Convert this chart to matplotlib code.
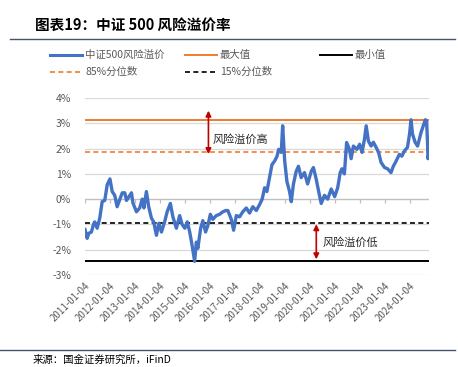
import matplotlib.pyplot as plt
from matplotlib.lines import Line2D
import pandas as pd

plt.rcParams['font.family'] = ['Noto Sans CJK SC', 'DejaVu Sans']

# values (%)
dates = ['2011-01-04', '2011-02-05', '2011-03-01', '2011-04-08', '2011-05-08', '2011-05-26',
         '2011-07-01', '2011-08-08', '2011-09-12', '2011-10-20', '2011-11-25', '2012-01-04',
         '2012-02-06', '2012-03-14', '2012-04-18', '2012-05-25', '2012-07-02', '2012-08-08',
         '2012-09-02', '2012-10-08', '2012-11-14', '2012-12-05', '2013-01-26', '2013-03-14',
         '2013-04-20', '2013-05-15', '2013-06-20', '2013-07-24', '2013-09-02', '2013-10-05',
         '2013-11-14', '2013-12-20', '2014-01-27', '2014-03-14', '2014-04-20', '2014-06-06',
         '2014-07-13', '2014-09-02', '2014-10-20', '2014-11-25', '2015-01-04', '2015-02-08',
         '2015-03-16', '2015-04-20', '2015-05-27', '2015-06-21', '2015-07-13', '2015-08-23',
         '2015-09-24', '2015-11-03', '2015-12-06', '2016-01-12', '2016-02-17', '2016-04-08',
         '2016-05-26', '2016-07-13', '2016-08-26', '2016-09-24', '2016-11-14', '2016-12-17',
         '2017-01-26', '2017-03-14', '2017-05-01', '2017-06-21', '2017-08-08', '2017-09-24',
         '2017-11-14', '2018-01-04', '2018-02-08', '2018-03-16', '2018-04-18', '2018-05-26',
         '2018-07-02', '2018-08-08', '2018-09-14', '2018-10-08', '2018-11-14', '2018-12-05',
         '2019-01-04', '2019-02-05', '2019-03-16', '2019-04-10', '2019-05-12', '2019-06-21',
         '2019-07-24', '2019-09-02', '2019-10-20', '2019-12-05', '2020-01-27', '2020-02-28',
         '2020-04-08', '2020-05-15', '2020-06-21', '2020-08-08', '2020-09-24', '2020-11-14',
         '2021-01-04', '2021-02-17', '2021-03-26', '2021-04-20', '2021-05-26', '2021-06-28',
         '2021-08-08', '2021-09-02', '2021-10-05', '2021-11-25', '2022-01-04', '2022-02-08',
         '2022-03-16', '2022-04-10', '2022-05-12', '2022-06-21', '2022-07-24', '2022-09-02',
         '2022-10-08', '2022-11-14', '2023-01-04', '2023-02-17', '2023-04-08', '2023-05-12',
         '2023-06-21', '2023-08-08', '2023-09-14', '2023-10-20', '2023-12-05', '2024-01-04',
         '2024-01-26', '2024-02-17', '2024-03-26', '2024-05-01', '2024-06-21', '2024-07-24',
         '2024-08-22', '2024-09-10', '2024-09-24', '2024-09-30', '2024-10-15']
premium = [-1.2, -1.55, -1.35, -1.3, -1.0, -0.9,
           -1.15, -0.75, -0.1, -0.05, 0.57, 0.8,
           0.3, 0.15, -0.3, -0.03, 0.25, 0.25,
           -0.05, 0.1, 0.25, -0.15, -0.5, -0.35,
           0.0, -0.35, 0.3, -0.3, -0.75, -0.9,
           -1.43, -0.95, -1.3, -0.9, -0.5, -0.17,
           -0.7, -1.15, -0.65, -1.0, -1.15, -0.9,
           -1.3, -1.83, -2.46, -1.7, -1.95, -1.15,
           -0.85, -1.3, -1.05, -0.6, -0.8, -0.65,
           -0.6, -0.5, -0.45, -0.45, -0.8, -1.23,
           -0.65, -0.7, -0.5, -0.35, -0.55, -0.3,
           -0.45, -0.2, 0.0, 0.45, 0.3, 0.84,
           1.37, 1.5, 1.7, 1.97, 1.85, 2.9,
           1.5, 0.7, 0.3, -0.1, 0.6, 1.1,
           1.3, 0.85, 1.05, 0.6, 1.1, 1.25,
           0.8, 0.3, -0.17, 0.15, 0.0, 0.4,
           0.1, 0.45, 1.05, 1.2, 1.0, 2.24,
           1.97, 1.6, 2.1, 1.97, 2.17, 1.85,
           2.37, 2.9, 2.3, 2.1, 2.25, 2.05,
           1.85, 1.45, 1.25, 1.2, 1.05, 1.3,
           1.5, 1.77, 1.7, 1.9, 2.05, 2.57,
           3.14, 2.57, 2.25, 2.1, 2.64, 2.9,
           3.14, 3.1, 2.2, 1.6, 1.8]
max_val = 3.14
min_val = -2.46
q85 = 1.88
q15 = -0.95
tick_labels = ['%d-01-04' % y for y in range(2011, 2025)]

blue = '#4472C4'
orange = '#ED7D31'
red = '#C00000'
gray = '#595959'

df = pd.DataFrame({'date': pd.to_datetime(dates), 'v': premium})
ticks = pd.to_datetime(tick_labels)

fig = plt.figure(figsize=(4.58, 3.67), dpi=100)
ax = fig.add_axes([85 / 458, 1 - 275 / 367, (429 - 85) / 458, (275 - 98) / 367])

ax.plot(df['date'], df['v'], color=blue, lw=2.4, zorder=3, solid_joinstyle='round')
ax.axhline(max_val, color=orange, lw=1.4, zorder=2)
ax.axhline(min_val, color='#000000', lw=1.4, zorder=2)
ax.axhline(q85, color=orange, lw=1.2, ls=(0, (3, 2)), zorder=2)
ax.axhline(q15, color='#000000', lw=1.2, ls=(0, (3, 2)), zorder=2)

ax.set_xlim(df['date'].iloc[0], df['date'].iloc[-1])
ax.set_ylim(-3, 4)
ax.set_yticks(range(-3, 5))
ax.set_yticklabels(['%d%%' % v for v in range(-3, 5)])
ax.grid(axis='y', color='#D9D9D9', lw=0.9)
ax.set_axisbelow(True)
for s in ax.spines.values():
    s.set_visible(False)
ax.tick_params(axis='y', length=0, labelsize=7.5, labelcolor=gray, pad=10)
ax.set_xticks(ticks)
ax.set_xticklabels(tick_labels, rotation=45, ha='right', rotation_mode='anchor')
ax.tick_params(axis='x', length=0, labelsize=7, labelcolor=gray, pad=4)
# category axis crosses at 0 with small tick marks
ax.axhline(0, color='#BFBFBF', lw=0.9, zorder=1)
ax.vlines(ticks, -0.16, 0, color='#BFBFBF', lw=0.9, zorder=1)

# annotations
ax.annotate('', xy=(pd.Timestamp('2015-12-15'), 1.78), xytext=(pd.Timestamp('2015-12-15'), 3.5),
            arrowprops=dict(arrowstyle='<|-|>', color=red, lw=1.2, mutation_scale=8,
                            shrinkA=0, shrinkB=0))
ax.text(pd.Timestamp('2016-02-15'), 2.37, '风险溢价高', fontsize=8, color='#262626', va='center')
ax.annotate('', xy=(pd.Timestamp('2020-04-10'), -2.38), xytext=(pd.Timestamp('2020-04-10'), -0.99),
            arrowprops=dict(arrowstyle='<|-|>', color=red, lw=1.2, mutation_scale=8,
                            shrinkA=0, shrinkB=0))
ax.text(pd.Timestamp('2020-07-08'), -1.72, '风险溢价低', fontsize=8, color='#262626', va='center')

# title and frame lines
fig.text(35 / 458, 1 - 25 / 367, '图表19：中证 500 风险溢价率', fontsize=10.5, fontweight='bold',
         style='italic', va='center', color='#000000')
fig.add_artist(Line2D([10 / 458, 455 / 458], [1 - 38.5 / 367] * 2, color='#44546A', lw=1.0))
fig.add_artist(Line2D([0, 455 / 458], [1 - 350 / 367] * 2, color='#44546A', lw=1.0))
fig.text(33 / 458, 1 - 360 / 367, '来源：国金证券研究所，iFinD', fontsize=7.5, va='center', color='#000000')

# legend
legend_items = [('中证500风险溢价', blue, '-', 2.2, 50, 55),
                ('最大值', orange, '-', 1.4, 185, 55),
                ('最小值', '#000000', '-', 1.4, 320, 55),
                ('85%分位数', orange, (0, (3, 2)), 1.2, 50, 72),
                ('15%分位数', '#000000', (0, (3, 2)), 1.2, 185, 72)]
for label, c, ls, lw, x0, y0 in legend_items:
    fig.add_artist(Line2D([x0 / 458, (x0 + 32) / 458], [1 - y0 / 367] * 2, color=c, ls=ls, lw=lw))
    fig.text((x0 + 35) / 458, 1 - y0 / 367, label, fontsize=7.5, va='center', color=gray)

plt.savefig('out.png', dpi=100)
